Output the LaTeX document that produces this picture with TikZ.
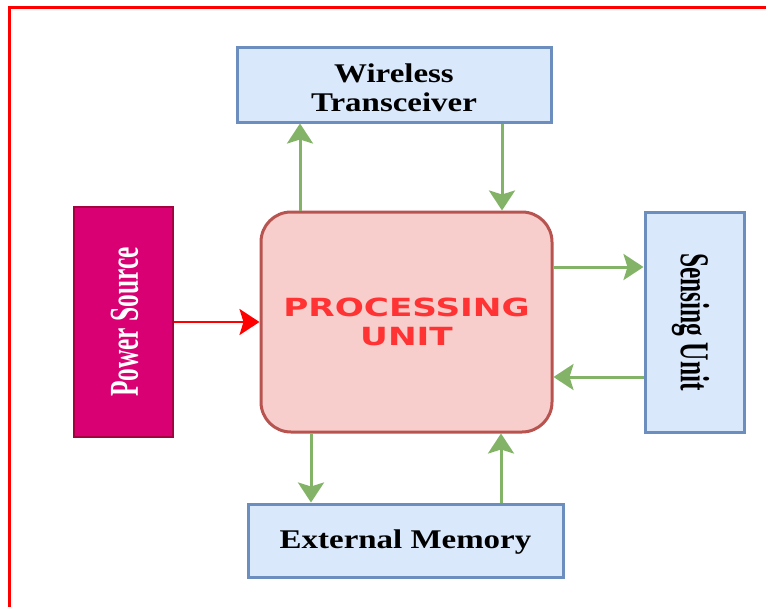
\documentclass[tikz,border=0pt]{standalone}
\usepackage{fontspec}
\usetikzlibrary{arrows.meta}
\newfontfamily\boxfont[FakeStretch=1.22]{Liberation Serif}
\newfontfamily\sidefont[FakeStretch=0.62]{Liberation Serif}
\newfontfamily\pufont[FakeStretch=1.37]{DejaVu Sans}
\definecolor{bluefill}{HTML}{DAE8FC}
\definecolor{bluedraw}{HTML}{6C8EBF}
\definecolor{redfill}{HTML}{F8CECC}
\definecolor{reddraw}{HTML}{B85450}
\definecolor{putext}{HTML}{FF3333}
\definecolor{psfill}{HTML}{D80073}
\definecolor{psdraw}{HTML}{A50040}
\definecolor{arrgreen}{HTML}{82B366}
\tikzset{
  bluebox/.style={draw=bluedraw, fill=bluefill, line width=3pt, inner sep=0pt},
  boxtext/.style={align=center, inner sep=0pt, font=\boxfont\bfseries\fontsize{27}{29}\selectfont},
  sidetext/.style={font=\sidefont\bfseries\fontsize{41}{44}\selectfont},
  garrow/.style={draw=arrgreen, line width=3pt, -{Stealth[length=20pt 0,width=26pt 0,inset=4pt 0]}},
  rarrow/.style={draw=red, line width=2.5pt, -{Stealth[length=20pt 0,width=26pt 0,inset=4pt 0]}},
}
\begin{document}
\begin{tikzpicture}[x=1pt,y=-1pt]
\useasboundingbox (0,0) rectangle (766,606);
\clip (0,0) rectangle (766,606);
\fill[white] (0,0) rectangle (766,606);
\draw[red, line width=3pt] (9,640) -- (9,7) -- (800,7);

\node[bluebox, minimum width=314pt, minimum height=75pt] (wt) at (394,84.5) {};
\node[boxtext] (wtt) at ([yshift=-3pt]wt.center) {Wireless\\Transceiver};
\node[draw=psdraw, fill=psfill, line width=2pt, minimum width=99pt, minimum height=230pt, inner sep=0pt] (ps) at (123.5,322) {};
\node[text=white, rotate=90, sidetext] (pst) at ([xshift=1pt]ps.center) {Power Source};
\node[draw=reddraw, fill=redfill, line width=3pt, rounded corners=30pt, minimum width=291pt, minimum height=220pt, inner sep=0pt, align=center, text=putext, font=\pufont\bfseries\fontsize{25}{29}\selectfont] (pu) at (406.5,322) {PROCESSING\\UNIT};
\node[bluebox, minimum width=99pt, minimum height=220pt] (su) at (694.5,322) {};
\node[rotate=-90, sidetext] (sut) at ([xshift=-4pt]su.center) {Sensing Unit};
\node[bluebox, minimum width=315pt, minimum height=73pt] (em) at (405.5,540.5) {};
\node[boxtext] (emt) at ([yshift=-2pt]em.center) {External Memory};

\draw[garrow] ([xshift=-106.5pt]pu.north) -- ([xshift=-94pt]wt.south);
\draw[garrow] ([xshift=108pt]wt.south) -- ([xshift=95.5pt]pu.north);
\draw[garrow] ([yshift=55pt]pu.east) -- ([yshift=55pt]su.west);
\draw[garrow] ([yshift=-55pt]su.west) -- ([yshift=-55pt]pu.east);
\draw[garrow] ([xshift=-95.5pt]pu.south) -- ([xshift=-94.5pt]em.north);
\draw[garrow] ([xshift=95.5pt]em.north) -- ([xshift=94.5pt]pu.south);
\draw[rarrow] (ps.east) -- (pu.west);
\end{tikzpicture}
\end{document}
